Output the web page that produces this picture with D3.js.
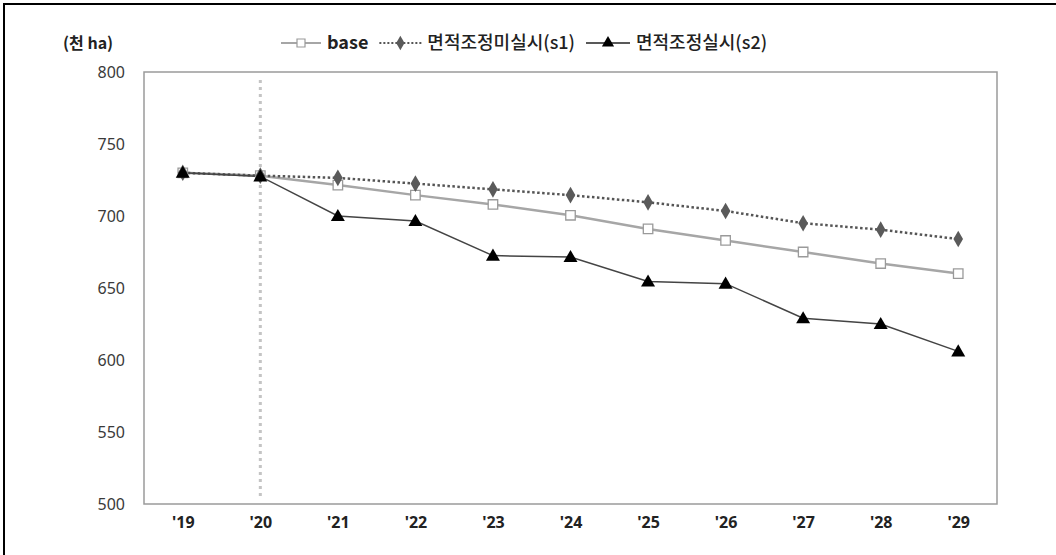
<!DOCTYPE html>
<html>
<head>
<meta charset="utf-8">
<script src="https://cdn.jsdelivr.net/npm/d3@7"></script>
<style>
  html, body { margin: 0; padding: 0; background: #fff; }
  svg { display: block; }
  text { font-family: "Noto Sans CJK KR", "Noto Sans", sans-serif; }
</style>
</head>
<body>
<svg id="chart" width="1056" height="555"></svg>
<script>
// Cultivated area projection (thousand ha), 2019–2029
const years = ["'19", "'20", "'21", "'22", "'23", "'24", "'25", "'26", "'27", "'28", "'29"];
const baseValues = [730, 728, 721.5, 714.5, 708, 700.5, 691, 683, 675, 667, 660];
const s1Values   = [730, 728, 726.5, 722.5, 718.5, 714.5, 709.5, 703.5, 695, 690.5, 684];
const s2Values   = [730, 727.5, 700, 696.5, 672.5, 671.5, 654.5, 653, 629, 625, 606];
const yTicks = [500, 550, 600, 650, 700, 750, 800];
const unitLabel = "(천 ha)";
const seriesNames = ["base", "면적조정미실시(s1)", "면적조정실시(s2)"];
const markerYear = "'20";

const svg = d3.select("#chart");
const W = 1056, H = 555;
const plot = { left: 144, right: 997, top: 72, bottom: 504 };

// outer frame (top and left edges)
svg.append("path")
  .attr("d", `M4,${H} L4,4 L${W},4`)
  .attr("fill", "none").attr("stroke", "#000").attr("stroke-width", 2);

const x = d3.scalePoint().domain(years).range([plot.left, plot.right]).padding(0.5);
const y = d3.scaleLinear().domain([500, 800]).range([plot.bottom, plot.top]);

// plot area box
svg.append("rect")
  .attr("x", plot.left).attr("y", plot.top)
  .attr("width", plot.right - plot.left).attr("height", plot.bottom - plot.top)
  .attr("fill", "none").attr("stroke", "#9a9a9a").attr("stroke-width", 1.5);

// y axis labels
const yAxis = d3.axisLeft(y).tickValues(yTicks).tickSize(0).tickPadding(0);
const gy = svg.append("g").attr("transform", `translate(${plot.left - 19},0)`).call(yAxis);
gy.select(".domain").remove();
gy.selectAll("text")
  .attr("font-size", 16).attr("fill", "#3a3a3a")
  .style("font-family", "'Noto Sans', sans-serif");

// x axis labels
const xAxis = d3.axisBottom(x).tickSize(0).tickPadding(0);
const gx = svg.append("g").attr("transform", `translate(0,${plot.bottom + 13})`).call(xAxis);
gx.select(".domain").remove();
gx.selectAll("text")
  .attr("font-size", 16).attr("font-weight", "bold").attr("fill", "#222")
  .style("font-family", "'Noto Sans', sans-serif");

// unit label
svg.append("text")
  .attr("x", 63).attr("y", 49)
  .attr("font-size", 16).attr("font-weight", "bold").attr("fill", "#222")
  .text(unitLabel);

// vertical dotted reference line
svg.append("line")
  .attr("x1", x(markerYear)).attr("x2", x(markerYear))
  .attr("y1", plot.top + 8).attr("y2", plot.bottom - 4)
  .attr("stroke", "#c4c4c4").attr("stroke-width", 3)
  .attr("stroke-dasharray", "3,4");

const line = d3.line().x((d, i) => x(years[i])).y(d => y(d));

const symSquare = d3.symbol().type(d3.symbolSquare).size(90);
const symDiamond = d3.symbol().type(d3.symbolDiamond).size(80);
const symTriangle = d3.symbol().type(d3.symbolTriangle).size(85);

// base
svg.append("path").datum(baseValues)
  .attr("d", line).attr("fill", "none")
  .attr("stroke", "#a6a6a6").attr("stroke-width", 2.5);
// s1
svg.append("path").datum(s1Values)
  .attr("d", line).attr("fill", "none")
  .attr("stroke", "#555").attr("stroke-width", 2.5)
  .attr("stroke-dasharray", "2.5,2.5");
// s2
svg.append("path").datum(s2Values)
  .attr("d", line).attr("fill", "none")
  .attr("stroke", "#444").attr("stroke-width", 1.5);

svg.append("g").selectAll("path").data(baseValues).join("path")
  .attr("transform", (d, i) => `translate(${x(years[i])},${y(d)})`)
  .attr("d", symSquare).attr("fill", "#fff").attr("stroke", "#9a9a9a").attr("stroke-width", 1.3);
svg.append("g").selectAll("path").data(s1Values).join("path")
  .attr("transform", (d, i) => `translate(${x(years[i])},${y(d)})`)
  .attr("d", symDiamond).attr("fill", "#5a5a5a");
svg.append("g").selectAll("path").data(s2Values).join("path")
  .attr("transform", (d, i) => `translate(${x(years[i])},${y(d) + 1})`)
  .attr("d", symTriangle).attr("fill", "#000");

// legend: sample line + marker, then label, laid out left to right
const legendY = 43;
const lg = svg.append("g");
let cursor = 281;
function legendItem(len, style, sym, symStyle, label, bold) {
  const l = lg.append("line").attr("x1", cursor).attr("x2", cursor + len)
    .attr("y1", legendY).attr("y2", legendY);
  Object.entries(style).forEach(([k, v]) => l.attr(k, v));
  const s = lg.append("path").attr("d", sym)
    .attr("transform", `translate(${cursor + len / 2},${legendY})`);
  Object.entries(symStyle).forEach(([k, v]) => s.attr(k, v));
  const t = lg.append("text").attr("x", cursor + len + 6).attr("y", legendY + 6)
    .attr("font-size", 18).attr("font-weight", bold ? "bold" : 500).attr("fill", "#222")
    .text(label);
  cursor = cursor + len + 6 + t.node().getComputedTextLength() + 11;
}
legendItem(40, { stroke: "#a6a6a6", "stroke-width": 2 },
  d3.symbol().type(d3.symbolSquare).size(64)(), { fill: "#fff", stroke: "#9a9a9a", "stroke-width": 1.2 },
  seriesNames[0], true);
legendItem(42, { stroke: "#555", "stroke-width": 2, "stroke-dasharray": "2,2" },
  d3.symbol().type(d3.symbolDiamond).size(60)(), { fill: "#5a5a5a" },
  seriesNames[1], false);
legendItem(44, { stroke: "#222", "stroke-width": 1.5 },
  d3.symbol().type(d3.symbolTriangle).size(64)(), { fill: "#000" },
  seriesNames[2], false);
</script>
</body>
</html>
